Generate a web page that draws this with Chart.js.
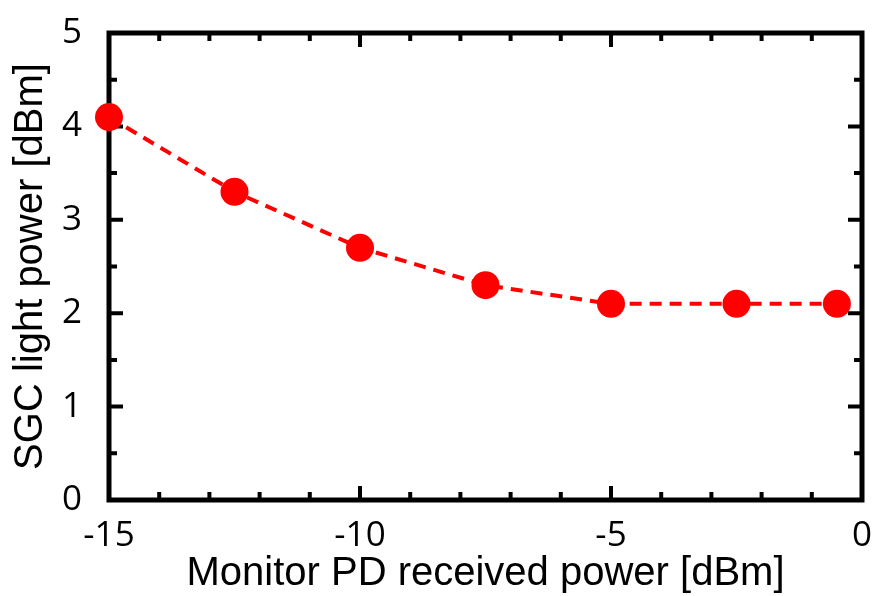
<!DOCTYPE html>
<html>
<head>
<meta charset="utf-8">
<script src="https://cdn.jsdelivr.net/npm/chart.js@4.4.1/dist/chart.umd.min.js"></script>
<style>
  html, body { margin: 0; padding: 0; background: #fff; }
  #wrap { width: 876px; height: 596px; }
</style>
</head>
<body>
<div id="wrap"><canvas id="chart" width="876" height="596"></canvas></div>
<script>
// ----------------- Data -----------------
const monitorPower = [-15, -12.5, -10, -7.5, -5, -2.5, -0.5];
const sgcPower = [4.1, 3.3, 2.7, 2.3, 2.1, 2.1, 2.1];
const xTicks = [-15, -10, -5, 0];
const yTicks = [0, 1, 2, 3, 4, 5];

const TICK_FONT = "'Open Sans', 'DejaVu Sans', sans-serif";
const TITLE_FONT = "'Liberation Sans', Arial, sans-serif";

// frame on all four sides + inward ticks (gnuplot style)
const framePlugin = {
  id: "frame",
  beforeDatasetsDraw(chart) {
    const { ctx, chartArea: a, scales } = chart;
    const x = scales.x, y = scales.y;
    ctx.save();
    ctx.strokeStyle = "#000";
    ctx.lineWidth = 5;
    ctx.lineCap = "butt";
    ctx.strokeRect(a.left, a.top, a.right - a.left, a.bottom - a.top);

    ctx.lineWidth = 4;
    // x ticks, every 1 unit, long at multiples of 5
    for (let v = -15; v <= 0; v++) {
      const px = x.getPixelForValue(v);
      const len = v % 5 === 0 ? 14 : 8;
      ctx.beginPath();
      ctx.moveTo(px, a.bottom); ctx.lineTo(px, a.bottom - len);
      ctx.moveTo(px, a.top); ctx.lineTo(px, a.top + len);
      ctx.stroke();
    }
    // y ticks, every 0.5, long at integers
    for (let i = 0; i <= 10; i++) {
      const v = i / 2;
      const py = y.getPixelForValue(v);
      const len = i % 2 === 0 ? 14 : 8;
      ctx.beginPath();
      ctx.moveTo(a.left, py); ctx.lineTo(a.left + len, py);
      ctx.moveTo(a.right, py); ctx.lineTo(a.right - len, py);
      ctx.stroke();
    }
    ctx.restore();
  }
};

// ----------------- Chart -----------------
new Chart(document.getElementById("chart"), {
  type: "line",
  data: {
    datasets: [{
      data: monitorPower.map((p, i) => ({ x: p, y: sgcPower[i] })),
      borderColor: "#ff0000",
      borderWidth: 4,
      borderDash: [12, 8],
      backgroundColor: "#ff0000",
      pointRadius: 14,
      pointBorderWidth: 0,
      pointBackgroundColor: "#ff0000",
      tension: 0,
      clip: false
    }]
  },
  options: {
    responsive: false,
    animation: false,
    events: [],
    layout: { padding: { top: 33, right: 11, left: 0, bottom: 0 } },
    plugins: { legend: { display: false }, tooltip: { enabled: false } },
    scales: {
      x: {
        type: "linear",
        min: -15, max: 0,
        afterFit: s => { s.height = 96; s.paddingLeft = 0; s.paddingRight = 0; },
        afterBuildTicks: s => { s.ticks = xTicks.map(v => ({ value: v })); },
        grid: { display: false, drawTicks: false },
        border: { display: false },
        ticks: { color: "#000", font: { family: TICK_FONT, size: 35 }, padding: 15, maxRotation: 0 },
        title: {
          display: true,
          text: "Monitor PD received power [dBm]",
          color: "#000",
          font: { family: TITLE_FONT, size: 40, lineHeight: 1 },
          padding: { top: 0, bottom: 2 }
        }
      },
      y: {
        type: "linear",
        min: 0, max: 5,
        afterFit: s => { s.width = 109; s.paddingTop = 0; s.paddingBottom = 0; },
        afterBuildTicks: s => { s.ticks = yTicks.map(v => ({ value: v })); },
        grid: { display: false, drawTicks: false },
        border: { display: false },
        ticks: { color: "#000", font: { family: TICK_FONT, size: 35 }, padding: 27 },
        title: {
          display: true,
          text: "SGC light power [dBm]",
          color: "#000",
          font: { family: TITLE_FONT, size: 40, lineHeight: 1 },
          padding: { top: 11, bottom: 0 }
        }
      }
    }
  },
  plugins: [framePlugin]
});
</script>
</body>
</html>
